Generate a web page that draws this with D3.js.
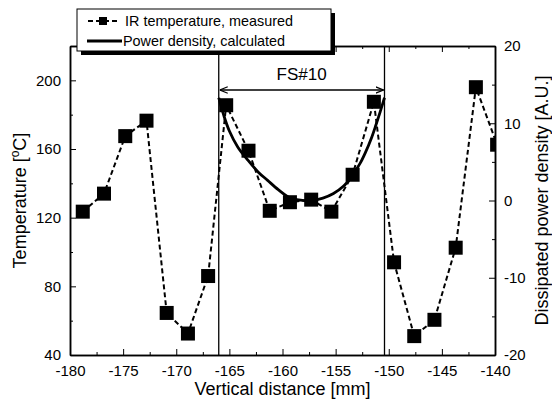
<!DOCTYPE html>
<html>
<head>
<meta charset="utf-8">
<script src="https://cdn.jsdelivr.net/npm/d3@7"></script>
<style>
  body { margin: 0; background: #fff; }
  svg { font-family: "Liberation Sans", Arial, sans-serif; }
</style>
</head>
<body>
<svg width="552" height="401"></svg>
<script>
// measured IR temperature
const distance = [-178.8, -176.8, -174.8, -172.8, -170.9, -168.9, -167.0, -165.3, -163.2, -161.2, -159.3,
  -157.3, -155.4, -153.4, -151.4, -149.5, -147.6, -145.7, -143.7, -141.8, -139.8];
const temperature = [123.5, 134, 167.5, 176.5, 64.5, 52.5, 86, 185.5, 159, 124, 129,
  130.5, 123.5, 145, 187.5, 94, 51, 60.5, 102.5, 196, 162.5];

// calculated power density
const powerX = [-166, -165.5, -165, -164.2, -163.3, -162.3, -161.4, -160.4, -159.5, -158.3, -157.2,
  -156.2, -155.2, -154.3, -153.5, -152.7, -152.2, -151.6, -151.2, -150.8, -150.4];
const powerY = [13.3, 10.9, 9.0, 6.9, 5.3, 3.7, 2.6, 1.4, 0.5, 0.05, 0,
  0.3, 0.9, 1.8, 3.1, 4.8, 6.2, 8.2, 9.8, 11.5, 13.3];

const fsBounds = [-166, -150.4];
const fsLabel = 'FS#10';

const xTicks = [-180, -175, -170, -165, -160, -155, -150, -145, -140];
const leftTicks = [40, 80, 120, 160, 200];
const rightTicks = [-20, -10, 0, 10, 20];

const legendLabels = ['IR temperature, measured', 'Power density, calculated'];

const margins = { top: 46, right: 57, bottom: 46, left: 70 };
const W = 552, H = 401;

const x = d3.scaleLinear().domain([-180, -140]).range([margins.left, W - margins.right]);
const yL = d3.scaleLinear().domain([40, 220]).range([H - margins.bottom, margins.top]);
const yR = d3.scaleLinear().domain([-20, 20]).range([H - margins.bottom, margins.top]);

const svg = d3.select('svg');

svg.append('defs').append('clipPath').attr('id', 'plot')
  .append('rect')
  .attr('x', margins.left).attr('y', margins.top)
  .attr('width', W - margins.left - margins.right)
  .attr('height', H - margins.top - margins.bottom);

function styleAxis(g) {
  g.selectAll('path.domain').attr('stroke', '#000').attr('stroke-width', 1.5);
  g.selectAll('.tick line').attr('stroke', '#000').attr('stroke-width', 1);
  g.selectAll('.tick text').attr('fill', '#000').style('font-size', '15px');
}

const minorX = d3.range(-177.5, -140, 5);

// bottom
svg.append('g').attr('transform', `translate(0,${H - margins.bottom})`)
  .call(d3.axisBottom(x).tickValues(minorX).tickSize(-3).tickFormat('').tickSizeOuter(0))
  .call(styleAxis);
svg.append('g').attr('transform', `translate(0,${H - margins.bottom})`)
  .call(d3.axisBottom(x).tickValues(xTicks).tickSize(-6).tickPadding(10).tickSizeOuter(0).tickFormat(d => d))
  .call(styleAxis)
  .selectAll('.tick text').text(d => String(d));

// top
svg.append('g').attr('transform', `translate(0,${margins.top})`)
  .call(d3.axisTop(x).tickValues(minorX).tickSize(-3).tickFormat('').tickSizeOuter(0))
  .call(styleAxis);
svg.append('g').attr('transform', `translate(0,${margins.top})`)
  .call(d3.axisTop(x).tickValues(xTicks).tickSize(-6).tickFormat('').tickSizeOuter(0))
  .call(styleAxis);

// left
svg.append('g').attr('transform', `translate(${margins.left},0)`)
  .call(d3.axisLeft(yL).tickValues([60, 100, 140, 180, 220]).tickSize(-3).tickFormat('').tickSizeOuter(0))
  .call(styleAxis);
svg.append('g').attr('transform', `translate(${margins.left},0)`)
  .call(d3.axisLeft(yL).tickValues(leftTicks).tickSize(-6).tickPadding(9).tickSizeOuter(0))
  .call(styleAxis);

// right
svg.append('g').attr('transform', `translate(${W - margins.right},0)`)
  .call(d3.axisRight(yR).tickValues([-15, -5, 5, 15]).tickSize(-3).tickFormat('').tickSizeOuter(0))
  .call(styleAxis);
svg.append('g').attr('transform', `translate(${W - margins.right},0)`)
  .call(d3.axisRight(yR).tickValues(rightTicks).tickSize(-6).tickPadding(9).tickSizeOuter(0).tickFormat(d => d))
  .call(styleAxis)
  .selectAll('.tick text').text(d => String(d));

// FS#10 region
svg.selectAll('.fsline').data(fsBounds).enter().append('line')
  .attr('class', 'fsline')
  .attr('x1', d => x(d)).attr('x2', d => x(d))
  .attr('y1', margins.top).attr('y2', H - margins.bottom)
  .attr('stroke', '#000').attr('stroke-width', 1.3);

const arrowY = 90;
const defs = svg.select('defs');
defs.append('marker').attr('id', 'ah').attr('viewBox', '0 0 10 10')
  .attr('refX', 10).attr('refY', 5).attr('markerWidth', 8).attr('markerHeight', 8)
  .attr('orient', 'auto-start-reverse').attr('markerUnits', 'userSpaceOnUse')
  .append('path').attr('d', 'M0,1 L10,5 L0,9').attr('fill', 'none').attr('stroke', '#000').attr('stroke-width', 1.5);
svg.append('line')
  .attr('x1', x(fsBounds[0]) + 1).attr('x2', x(fsBounds[1]) - 1)
  .attr('y1', arrowY).attr('y2', arrowY)
  .attr('stroke', '#000').attr('stroke-width', 1.3)
  .attr('marker-start', 'url(#ah)').attr('marker-end', 'url(#ah)');
svg.append('text')
  .attr('x', (x(fsBounds[0]) + x(fsBounds[1])) / 2).attr('y', 80)
  .attr('text-anchor', 'middle').style('font-size', '17px')
  .text(fsLabel);

const plot = svg.append('g').attr('clip-path', 'url(#plot)');

// power density curve
plot.append('path')
  .datum(powerX.map((d, i) => [d, powerY[i]]))
  .attr('fill', 'none').attr('stroke', '#000').attr('stroke-width', 2.8)
  .attr('d', d3.line().x(d => x(d[0])).y(d => yR(d[1])).curve(d3.curveCatmullRom));

// temperature dashed line + squares
const tData = distance.map((d, i) => [d, temperature[i]]);
plot.append('path')
  .datum(tData)
  .attr('fill', 'none').attr('stroke', '#000').attr('stroke-width', 2)
  .attr('stroke-dasharray', '5,3')
  .attr('d', d3.line().x(d => x(d[0])).y(d => yL(d[1])));
const sq = 14;
plot.selectAll('.pt').data(tData).enter().append('rect')
  .attr('class', 'pt')
  .attr('x', d => x(d[0]) - sq / 2).attr('y', d => yL(d[1]) - sq / 2)
  .attr('width', sq).attr('height', sq).attr('fill', '#000');

// axis titles
svg.append('text')
  .attr('x', (margins.left + W - margins.right) / 2).attr('y', 395)
  .attr('text-anchor', 'middle').style('font-size', '18px')
  .text('Vertical distance [mm]');

const tl = svg.append('text')
  .attr('transform', `translate(26,${(margins.top + H - margins.bottom) / 2}) rotate(-90)`)
  .attr('text-anchor', 'middle').style('font-size', '18px');
tl.append('tspan').text('Temperature [');
tl.append('tspan').attr('dy', -7).style('font-size', '12px').text('o');
tl.append('tspan').attr('dy', 7).text('C]');

svg.append('text')
  .attr('transform', `translate(548,${(margins.top + H - margins.bottom) / 2}) rotate(-90)`)
  .attr('text-anchor', 'middle').style('font-size', '18px')
  .text('Dissipated power density [A.U.]');

// legend
const lg = svg.append('g').attr('transform', 'translate(77,9)');
lg.append('rect').attr('x', 4).attr('y', 4).attr('width', 254).attr('height', 42).attr('fill', '#000');
lg.append('rect').attr('x', 0).attr('y', 0).attr('width', 254).attr('height', 42)
  .attr('fill', '#fff').attr('stroke', '#000').attr('stroke-width', 1);
lg.append('line').attr('x1', 11).attr('x2', 42).attr('y1', 12).attr('y2', 12)
  .attr('stroke', '#000').attr('stroke-width', 2).attr('stroke-dasharray', '5,3');
lg.append('rect').attr('x', 22).attr('y', 8).attr('width', 8).attr('height', 8).attr('fill', '#000');
lg.append('line').attr('x1', 10).attr('x2', 45).attr('y1', 32).attr('y2', 32)
  .attr('stroke', '#000').attr('stroke-width', 2.8);
lg.selectAll('.lt').data(legendLabels).enter().append('text')
  .attr('class', 'lt')
  .attr('x', (d, i) => i === 0 ? 48 : 46).attr('y', (d, i) => 17 + i * 20)
  .style('font-size', '14.4px').text(d => d);
</script>
</body>
</html>
